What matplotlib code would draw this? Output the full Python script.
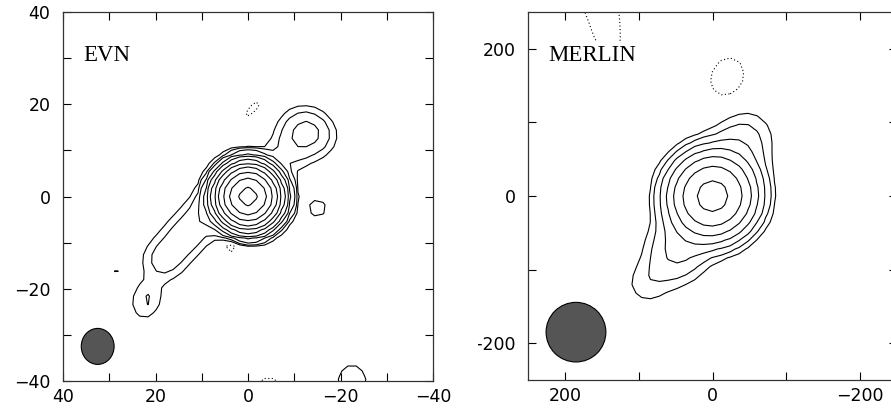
import numpy as np
import matplotlib.pyplot as plt
from matplotlib.patches import Ellipse, Rectangle
from matplotlib.ticker import MultipleLocator

# EVN image, modelled as a few gaussian components
# (x, y in mas; peak in units of the lowest contour; sigmas in mas; pa in deg)
evn_x = [0.0, 9.0, 13.5, 18.0, 22.0, -13.0, -9.0, -15.0, 28.0, -22.5, -1.0, 3.5, -4.5]
evn_y = [0.0, -3.5, -8.5, -13.5, -22.5, 14.0, 10.0, -2.5, -16.0, -40.0, 19.0, -10.5, -41.0]
evn_peak = [1320.0, 3.2, 3.0, 3.0, 2.15, 5.0, 2.2, 1.5, 1.3, 1.9, -1.5, -2.2, -1.5]
evn_smaj = [2.85, 3.2, 3.2, 3.2, 3.0, 3.5, 3.2, 2.0, 1.2, 2.6, 2.2, 1.8, 3.0]
evn_smin = [2.85, 3.0, 3.0, 3.0, 2.3, 3.0, 3.2, 2.0, 1.2, 3.0, 1.1, 1.2, 1.8]
evn_pa = [0.0, -48.0, -48.0, -48.0, -75.0, 30.0, 0.0, 0.0, 0.0, 0.0, 130.0, 140.0, 0.0]
evn_levels = [1, 2, 4, 8, 16, 32, 64, 128, 256, 512, 1024]
evn_beam = (32.5, -32.5, 7.1, 7.8)

# MERLIN image
mer_x = [0.0, 5.0, -40.0, 50.0, 90.0, -20.0, 160.0]
mer_y = [0.0, -10.0, 80.0, -80.0, -120.0, 161.0, 295.0]
mer_peak = [80.0, 4.0, 2.0, 3.0, 1.3, -1.8, -4.0]
mer_smaj = [28.5, 60.0, 25.0, 25.0, 20.0, 25.0, 70.0]
mer_smin = [28.5, 25.0, 25.0, 25.0, 20.0, 20.0, 14.0]
mer_pa = [0.0, 125.0, 0.0, 0.0, 0.0, 110.0, 77.0]
mer_levels = [1, 2, 4, 8, 16, 32, 64]
mer_beam = (185.0, -185.0, 81.0, 81.0)


def build_map(xs, ys, peaks, smaj, smin, pa, step, n):
    g = float(step) * np.arange(-n, n + 1, dtype=float)
    X, Y = np.meshgrid(g, g)
    Z = np.zeros_like(X)
    for x0, y0, a, s1, s2, p in zip(xs, ys, peaks, smaj, smin, pa):
        t = np.deg2rad(p)
        u = (X - x0) * np.cos(t) + (Y - y0) * np.sin(t)
        v = -(X - x0) * np.sin(t) + (Y - y0) * np.cos(t)
        Z += a * np.exp(-0.5 * ((u / s1) ** 2 + (v / s2) ** 2))
    return X, Y, Z


def draw_panel(ax, X, Y, Z, levels, lim, major, minor, beam, label):
    ax.contour(X, Y, Z, levels=levels, colors="black", linewidths=0.8,
               linestyles="solid")
    ax.contour(X, Y, Z, levels=[-1], colors="black", linewidths=0.8,
               linestyles=[(0, (1, 2.2))])
    bx, by, bw, bh = beam
    ax.add_patch(Ellipse((bx, by), bw, bh, facecolor="#555555",
                         edgecolor="black", linewidth=0.8, zorder=3))
    ax.set_xlim(lim, -lim)
    ax.set_ylim(-lim, lim)
    ax.xaxis.set_major_locator(MultipleLocator(major))
    ax.yaxis.set_major_locator(MultipleLocator(major))
    ax.xaxis.set_minor_locator(MultipleLocator(minor))
    ax.yaxis.set_minor_locator(MultipleLocator(minor))
    ax.tick_params(which="both", direction="in", length=6, width=0.8,
                   top=True, right=True, labelsize=12.5)
    ax.tick_params(axis="x", pad=5)
    ax.tick_params(axis="y", pad=9)
    for sp in ax.spines.values():
        sp.set_linewidth(0.9)
        sp.set_color("#333333")
    ax.text(0.054, 0.867, label, transform=ax.transAxes, fontsize=16.5,
            family="Liberation Serif", ha="left", va="baseline",
            bbox=dict(facecolor="white", edgecolor="none", pad=2))


fig = plt.figure(figsize=(8.91, 4.08), dpi=100)
ax1 = fig.add_axes([63 / 891, 27 / 408, 370 / 891, 369 / 408])
ax2 = fig.add_axes([528 / 891, 28 / 408, 369 / 891, 368 / 408])

X, Y, Z = build_map(evn_x, evn_y, evn_peak, evn_smaj, evn_smin, evn_pa, 1.8, 34)
draw_panel(ax1, X, Y, Z, evn_levels, 40, 20, 10, evn_beam, "EVN")

X, Y, Z = build_map(mer_x, mer_y, mer_peak, mer_smaj, mer_smin, mer_pa, 12, 26)
draw_panel(ax2, X, Y, Z, mer_levels, 250, 200, 100, mer_beam, "MERLIN")

# the left panel's sheet overlaps the minus of the lower MERLIN label
fig.patches.append(Rectangle((446 / 891, 50 / 408), 32 / 891, 30 / 408,
                             transform=fig.transFigure, facecolor="white",
                             edgecolor="none", zorder=10))

fig.savefig("out.png", dpi=100)
